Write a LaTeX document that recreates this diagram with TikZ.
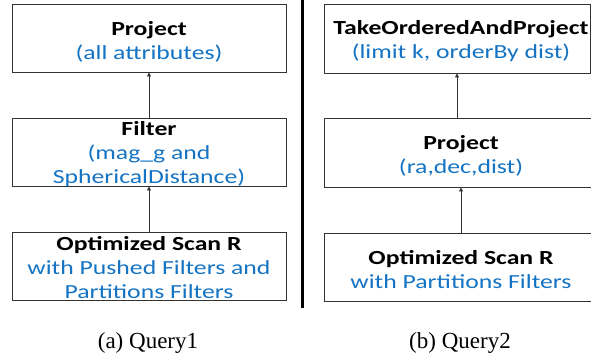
\documentclass[tikz,border=0pt]{standalone}
\usepackage{fontspec}
\usetikzlibrary{arrows.meta}
\newfontfamily\calfont[FakeStretch=1.285]{Carlito}
\newfontfamily\capfont{Liberation Serif}
\definecolor{txtblue}{RGB}{20,115,195}
\definecolor{boxline}{RGB}{50,50,50}
\tikzset{
  opbox/.style={draw=boxline, line width=0.9pt, minimum width=274pt, inner sep=0pt},
  optxt/.style={inner sep=0pt, align=center, font=\calfont\fontsize{20pt}{24pt}\selectfont},
  flow/.style={draw=boxline, line width=0.8pt, -{Triangle[length=4pt,width=4pt]}},
  capt/.style={font=\capfont\fontsize{23pt}{26pt}\selectfont, inner sep=0pt},
  divider/.style={line width=3pt, black}
}
\begin{document}
\begin{tikzpicture}[x=1pt,y=-1pt]
\useasboundingbox (0,0) rectangle (591,362);
\begin{scope}
\clip (0,0) rectangle (591,362);
% left column
\node[opbox, minimum height=68pt] (l1) at (149,38) {};
\node[optxt] (l1t) at (149,41.5) {\textbf{Project}\\\textcolor{txtblue}{(all attributes)}};
\node[opbox, minimum height=68pt] (l2) at (149,152) {};
\node[optxt] (l2t) at (149,154) {\textbf{Filter}\\\textcolor{txtblue}{(mag\_g and}\\\textcolor{txtblue}{SphericalDistance)}};
\node[opbox, minimum height=68pt] (l3) at (149,266) {};
\node[optxt] (l3t) at (149,267.5) {\textbf{Optimized Scan R}\\\textcolor{txtblue}{with Pushed Filters and}\\\textcolor{txtblue}{Partitions Filters}};
\draw[flow] (l2) -- (l1);
\draw[flow] (l3) -- (l2);
% divider
\coordinate (dtop) at (302.5,0);
\coordinate (dbot) at (302.5,308);
\draw[divider] (dtop) -- (dbot);
% right column
\node[opbox, minimum width=266pt, minimum height=69pt] (r1) at (457,38.5) {};
\node[optxt] (r1t) at (461,41.5) {\textbf{TakeOrderedAndProject}\\\textcolor{txtblue}{(limit k, orderBy dist)}};
\node[opbox, minimum height=69pt] (r2) at (461,152.5) {};
\node[optxt] (r2t) at (461,156) {\textbf{Project}\\\textcolor{txtblue}{(ra,dec,dist)}};
\node[opbox, minimum height=68pt] (r3) at (461,267) {};
\node[optxt] (r3t) at (461,269.5) {\textbf{Optimized Scan R}\\\textcolor{txtblue}{with Partitions Filters}};
\draw[flow] (r2.north -| r1.south) -- (r1.south);
\draw[flow] (r3) -- (r2);
\end{scope}
% captions
\node[capt] (ca) at (148,343) {(a) Query1};
\node[capt] (cb) at (460,343) {(b) Query2};
\end{tikzpicture}
\end{document}
